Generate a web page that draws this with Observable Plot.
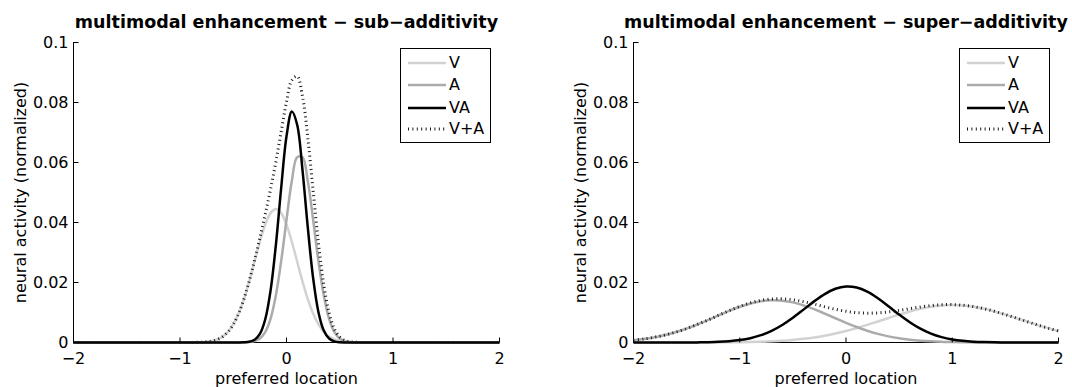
<!DOCTYPE html>
<html><head><meta charset="utf-8">
<script src="https://cdn.jsdelivr.net/npm/d3@7"></script>
<script src="https://cdn.jsdelivr.net/npm/@observablehq/plot@0.6"></script>
<style>
html,body{margin:0;padding:0;background:#fff;}
#root{position:relative;width:1072px;height:387px;overflow:hidden;font-family:"DejaVu Sans",sans-serif;background:#fff;}
.panel{position:absolute;top:0;}
.legend{position:absolute;border:1.5px solid #000;background:#fff;box-sizing:border-box;width:91px;height:95px;}
.row{position:absolute;left:0;height:22px;width:100%;}
.row svg{position:absolute;left:5px;top:0;}
.row span{position:absolute;left:48px;top:0;line-height:22px;font-size:16px;color:#000;font-family:"DejaVu Sans",sans-serif;}
</style></head><body><div id="root"></div>
<script>
// ---------- data ----------
const seriesNames = ["V", "A", "VA", "V+A"];
const titles = ["multimodal enhancement − sub−additivity", "multimodal enhancement − super−additivity"];
const xLabel = "preferred location";
const yLabel = "neural activity (normalized)";
const xTicks = [-2, -1, 0, 1, 2];
const xTickLabels = ["−2", "−1", "0", "1", "2"];
const yTicks = [0, 0.02, 0.04, 0.06, 0.08, 0.1];
const yTickLabels = ["0", "0.02", "0.04", "0.06", "0.08", "0.1"];

// sub-additivity panel (left)
const subX = [-2, -1.5, -1, -0.9, -0.8, -0.75, -0.7, -0.65, -0.6, -0.55, -0.5, -0.45, -0.4, -0.35, -0.3, -0.25, -0.2, -0.15, -0.1, -0.05, 0, 0.05, 0.1, 0.15, 0.2, 0.25, 0.3, 0.35, 0.4, 0.45, 0.5, 0.55, 0.6, 0.65, 0.7, 0.75, 0.8, 0.9, 1, 1.5, 2];
const subV = [0, 0, 0, 0.00002, 0.0001, 0.00023, 0.0005, 0.00101, 0.00195, 0.00354, 0.00602, 0.00963, 0.01445, 0.02037, 0.02699, 0.03359, 0.03927, 0.04313, 0.0445, 0.04313, 0.03927, 0.03359, 0.02699, 0.02037, 0.01445, 0.00963, 0.00602, 0.00354, 0.00195, 0.00101, 0.0005, 0.00023, 0.0001, 0.00004, 0.00002, 0.00001, 0, 0, 0, 0, 0];
const subA = [0, 0, 0, 0, 0, 0, 0, 0, 0, 0, 0, 0, 0.00003, 0.00013, 0.00044, 0.00133, 0.00346, 0.00789, 0.01566, 0.02711, 0.04091, 0.05382, 0.06173, 0.06173, 0.05382, 0.04091, 0.02711, 0.01566, 0.00789, 0.00346, 0.00133, 0.00044, 0.00013, 0.00003, 0.00001, 0, 0, 0, 0, 0, 0];
const subVA = [0, 0, 0, 0, 0, 0, 0, 0, 0, 0, 0, 0, 0.00005, 0.00024, 0.0009, 0.00287, 0.00766, 0.01719, 0.03245, 0.0515, 0.0687, 0.077, 0.0726, 0.05755, 0.03834, 0.02146, 0.01011, 0.004, 0.00133, 0.00037, 0.00009, 0.00002, 0, 0, 0, 0, 0, 0, 0, 0, 0];
const subVplusA = [0, 0, 0, 0.00002, 0.0001, 0.00023, 0.0005, 0.00101, 0.00195, 0.00354, 0.00602, 0.00963, 0.01448, 0.0205, 0.02743, 0.03492, 0.04273, 0.05102, 0.06016, 0.07024, 0.08018, 0.08741, 0.08872, 0.0821, 0.06827, 0.05054, 0.03313, 0.0192, 0.00984, 0.00447, 0.00183, 0.00067, 0.00023, 0.00007, 0.00003, 0.00001, 0, 0, 0, 0, 0];

// super-additivity panel (right)
const superX = [-2, -1.9, -1.8, -1.7, -1.6, -1.5, -1.4, -1.3, -1.2, -1.1, -1, -0.9, -0.8, -0.7, -0.6, -0.5, -0.4, -0.3, -0.2, -0.1, 0, 0.1, 0.2, 0.3, 0.4, 0.5, 0.6, 0.7, 0.8, 0.9, 1, 1.1, 1.2, 1.3, 1.4, 1.5, 1.6, 1.7, 1.8, 1.9, 2];
const superV = [0, 0, 0, 0, 0, 0, 0.00001, 0.00002, 0.00004, 0.00007, 0.00011, 0.00017, 0.00027, 0.00041, 0.0006, 0.00087, 0.00123, 0.00169, 0.00227, 0.00299, 0.00383, 0.00479, 0.00586, 0.007, 0.00816, 0.0093, 0.01034, 0.01124, 0.01192, 0.01235, 0.0125, 0.01235, 0.01192, 0.01124, 0.01034, 0.0093, 0.00816, 0.007, 0.00586, 0.00479, 0.00383];
const superA = [0.00079, 0.0012, 0.00177, 0.00253, 0.00348, 0.00464, 0.00599, 0.00747, 0.00902, 0.01053, 0.0119, 0.01302, 0.01377, 0.01409, 0.01395, 0.01337, 0.01239, 0.01111, 0.00963, 0.00809, 0.00657, 0.00516, 0.00392, 0.00288, 0.00205, 0.00141, 0.00094, 0.00061, 0.00038, 0.00023, 0.00013, 0.00008, 0.00004, 0.00002, 0.00001, 0, 0, 0, 0, 0, 0];
const superVA = [0, 0, 0, 0, 0, 0.00002, 0.00004, 0.0001, 0.00021, 0.00042, 0.0008, 0.00144, 0.00244, 0.00389, 0.00583, 0.00824, 0.01096, 0.01371, 0.01615, 0.0179, 0.01868, 0.01834, 0.01695, 0.01474, 0.01207, 0.0093, 0.00675, 0.00461, 0.00296, 0.00179, 0.00102, 0.00055, 0.00028, 0.00013, 0.00006, 0.00003, 0.00001, 0, 0, 0, 0];
const superVplusA = [0.00079, 0.0012, 0.00177, 0.00253, 0.00348, 0.00464, 0.006, 0.00749, 0.00906, 0.0106, 0.01201, 0.01319, 0.01404, 0.0145, 0.01455, 0.01424, 0.01362, 0.0128, 0.0119, 0.01108, 0.0104, 0.00995, 0.00978, 0.00988, 0.01021, 0.01071, 0.01128, 0.01185, 0.0123, 0.01258, 0.01263, 0.01243, 0.01196, 0.01126, 0.01035, 0.0093, 0.00816, 0.007, 0.00586, 0.00479, 0.00383];

// ---------- styles ----------
const lineColors = ["#d2d2d2", "#ababab", "#000000", "#1a1a1a"];
const lineWidths = [2.5, 2.5, 2.5, 3];
const lineDash = [null, null, null, "1,3.4"];
const FONT = "'DejaVu Sans', sans-serif";

const root = document.getElementById("root");

function makePanel(title, xs, seriesVals, left, mLeft, mRight) {
  const W = 536, H = 387;
  const lines = seriesVals.map((vals, k) => Plot.line(vals, {
    x: xs, y: vals, curve: "catmull-rom",
    stroke: lineColors[k], strokeWidth: lineWidths[k],
    strokeDasharray: lineDash[k], strokeLinecap: "butt", strokeLinejoin: "round"
  }));
  const chart = Plot.plot({
    width: W, height: H,
    marginLeft: mLeft, marginRight: mRight, marginTop: 42, marginBottom: 45,
    style: {fontFamily: FONT, fontSize: "16px", color: "#000", background: "transparent", overflow: "visible"},
    x: {domain: [-2, 2]},
    y: {domain: [0, 0.1]},
    marks: [
      Plot.ruleX([-2], {stroke: "#000", strokeWidth: 1}),
      Plot.ruleY([0], {stroke: "#000", strokeWidth: 1.2}),
      ...lines,
      Plot.vector(xTicks, {x: d => d, frameAnchor: "bottom", rotate: 0, length: 5, anchor: "start", r: 0, stroke: "#000", strokeWidth: 1, strokeLinecap: "butt"}),
      Plot.vector(yTicks, {y: d => d, frameAnchor: "left", rotate: 90, length: 5, anchor: "start", r: 0, stroke: "#000", strokeWidth: 1, strokeLinecap: "butt"}),
      Plot.axisX(xTicks, {tickSize: 0, tickPadding: 10.5, tickFormat: d => xTickLabels[xTicks.indexOf(d)], fontSize: 16, label: null}),
      Plot.axisY(yTicks, {tickSize: 0, tickPadding: 5, tickFormat: d => yTickLabels[yTicks.indexOf(d)], fontSize: 16, label: null}),
      Plot.text([xLabel], {frameAnchor: "bottom", dy: 41, lineAnchor: "bottom", textAnchor: "middle", fontSize: 16}),
      Plot.text([yLabel], {frameAnchor: "left", rotate: -90, dx: -48, lineAnchor: "bottom", textAnchor: "middle", fontSize: 16}),
      Plot.text([title], {frameAnchor: "top", dy: -15, lineAnchor: "bottom", textAnchor: "middle", fontSize: 17.5, fontWeight: "bold"})
    ]
  });
  chart.querySelectorAll('g[aria-label="x-axis tick label"], g[aria-label="y-axis tick label"]').forEach(g => {
    g.setAttribute("font-size", "16");
    g.style.fontSize = "16px";
  });
  chart.classList.add("panel");
  chart.style.left = left + "px";
  root.appendChild(chart);
}

function makeLegend(left, top) {
  const box = document.createElement("div");
  box.className = "legend";
  box.style.left = left + "px";
  box.style.top = top + "px";
  const rowTops = [3, 25, 48, 69];
  seriesNames.forEach((name, k) => {
    const row = document.createElement("div");
    row.className = "row";
    row.style.top = rowTops[k] + "px";
    const dash = lineDash[k] ? ` stroke-dasharray="${lineDash[k]}"` : "";
    row.innerHTML = `<svg width="40" height="22"><line x1="2" x2="40" y1="11" y2="11" stroke="${lineColors[k]}" stroke-width="${lineWidths[k]}"${dash}/></svg><span>${name}</span>`;
    box.appendChild(row);
  });
  root.appendChild(box);
}

makePanel(titles[0], subX, [subV, subA, subVA, subVplusA], 0, 73, 37);
makePanel(titles[1], superX, [superV, superA, superVA, superVplusA], 536, 97, 14);
makeLegend(400, 48);
makeLegend(959, 48);
</script></body></html>
